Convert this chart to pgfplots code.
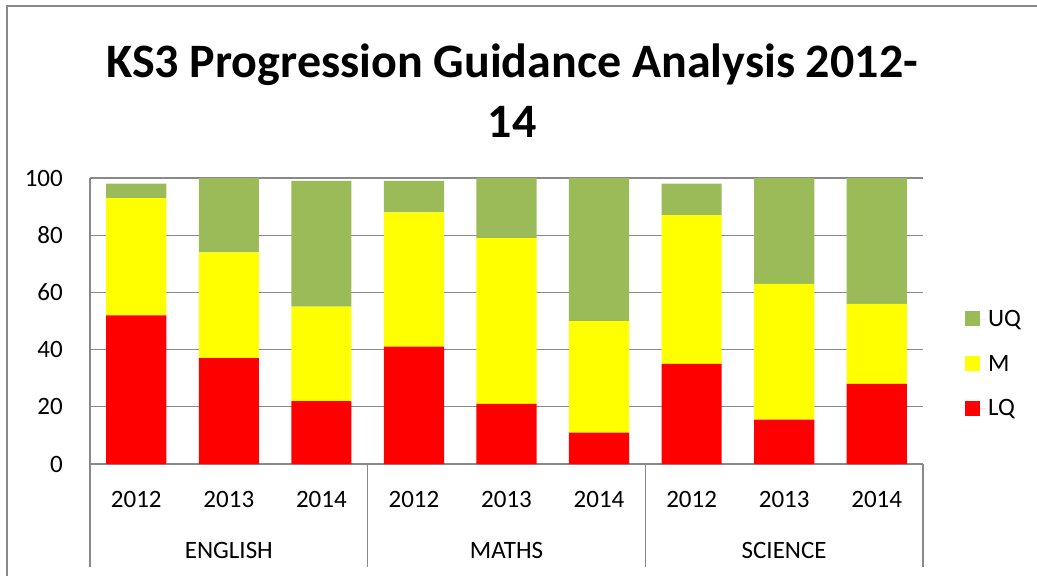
\documentclass[border=0pt]{standalone}
\usepackage{pgfplots}
\pgfplotsset{compat=1.18}
\usepackage{fontspec}
\setmainfont{Carlito}
\definecolor{lq}{RGB}{255,0,0}
\definecolor{mm}{RGB}{255,255,0}
\definecolor{uq}{RGB}{155,187,89}
\definecolor{gridgray}{RGB}{137,137,137}
\begin{document}
\begin{tikzpicture}
\path[use as bounding box] (0pt,0pt) rectangle (1037pt,-576pt);
\draw[gridgray, line width=2pt] (7pt,-580pt) -- (7pt,-6pt) -- (1040pt,-6pt);
\node[font=\fontsize{48}{60}\selectfont\bfseries, anchor=base, inner sep=0pt] at (512pt,-77.5pt) {KS3 Progression Guidance Analysis 2012-};
\node[font=\fontsize{48}{60}\selectfont\bfseries, anchor=base, inner sep=0pt] at (512pt,-137.5pt) {14};
\begin{axis}[
  at={(90pt,-464pt)}, anchor=south west, scale only axis,
  width=833pt, height=286pt,
  ybar stacked, bar width=0.65,
  xmin=-0.5, xmax=8.5, ymin=0, ymax=100,
  xtick={0,...,8},
  xticklabels={2012,2013,2014,2012,2013,2014,2012,2013,2014},
  ytick={0,20,...,100},
  ymajorgrids, grid style={gridgray, line width=1.3pt},
  axis x line*=bottom, axis y line*=left,
  axis line style={-, gridgray, line width=1.3pt},
  major tick length=0pt,
  /pgf/number format/assume math mode=true,
  xticklabel style={font=\fontsize{25}{30}\selectfont, inner sep=0pt, anchor=north, yshift=-27pt},
  yticklabel style={font=\fontsize{25}{30}\selectfont, inner sep=0pt, anchor=east, xshift=-27pt},
  clip=false,
  reverse legend,
  legend style={at={(1.0504,0.3497)}, anchor=west, draw=none, fill=none,
    font=\fontsize{25}{30}\selectfont, inner sep=0pt, row sep=23pt},
  legend cell align=left,
  legend image code/.code={\fill[#1] (0pt,-7pt) rectangle (15pt,8pt); \path (0pt,0pt) -- (21pt,0pt);},
]
\addplot[fill=lq, draw=none] coordinates {(0,52) (1,37) (2,22) (3,41) (4,21) (5,11) (6,35) (7,15.5) (8,28)};
\addplot[fill=mm, draw=none] coordinates {(0,41) (1,37) (2,33) (3,47) (4,58) (5,39) (6,52) (7,47.5) (8,28)};
\addplot[fill=uq, draw=none] coordinates {(0,5) (1,26) (2,44) (3,11) (4,21) (5,50) (6,11) (7,37) (8,44)};
\legend{LQ,M,UQ}
\draw[gridgray, line width=1.3pt] (axis cs:-0.5,0) -- ++(0pt,-103pt);
\draw[gridgray, line width=1.3pt] (axis cs:2.5,0) -- ++(0pt,-103pt);
\draw[gridgray, line width=1.3pt] (axis cs:5.5,0) -- ++(0pt,-103pt);
\draw[gridgray, line width=1.3pt] (axis cs:8.5,0) -- ++(0pt,-103pt);
\node[font=\fontsize{25}{30}\selectfont] at (axis cs:1,0) [yshift=-86pt] {ENGLISH};
\node[font=\fontsize{25}{30}\selectfont] at (axis cs:4,0) [yshift=-86pt] {MATHS};
\node[font=\fontsize{25}{30}\selectfont] at (axis cs:7,0) [yshift=-86pt] {SCIENCE};
\end{axis}
\end{tikzpicture}
\end{document}
